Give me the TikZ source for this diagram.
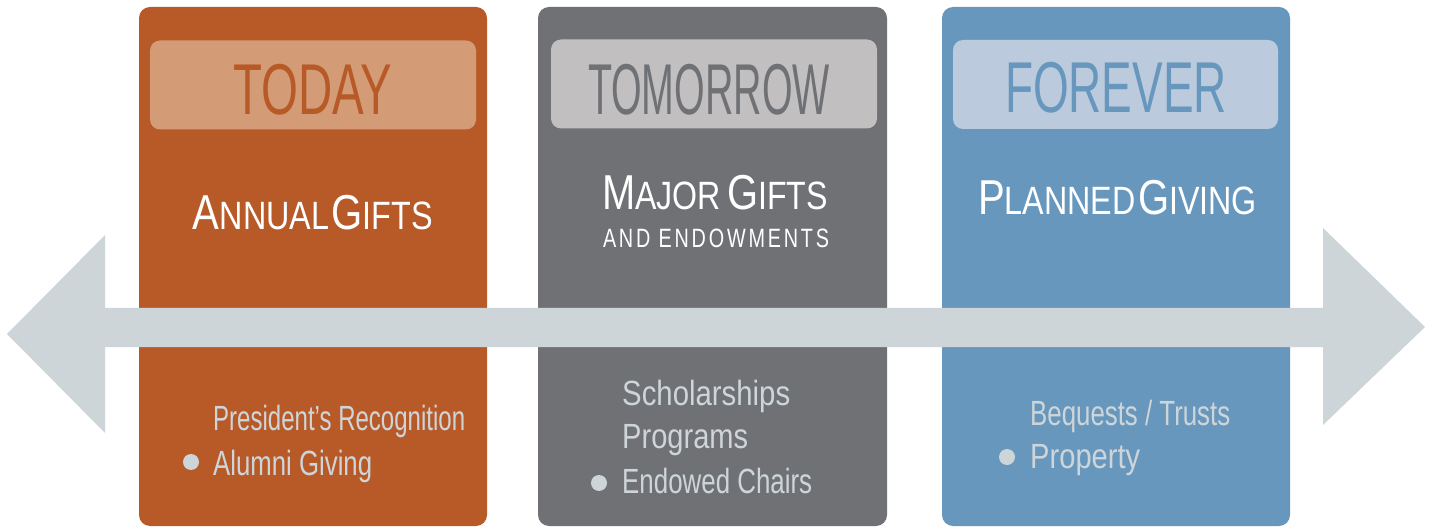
\documentclass[tikz,border=0pt]{standalone}
\usepackage{fontspec}
\usepackage{graphicx}
\setmainfont{Liberation Sans}
\newfontfamily\trackfont[LetterSpace=14]{Liberation Sans}
\definecolor{orangebox}{HTML}{B85A28}
\definecolor{orangehead}{HTML}{D49C76}
\definecolor{graybox}{HTML}{707175}
\definecolor{grayhead}{HTML}{C1BFBF}
\definecolor{bluebox}{HTML}{6897BD}
\definecolor{bluehead}{HTML}{BCCADD}
\definecolor{arrowgray}{HTML}{CDD5D9}
\newcommand\fitw[2]{\resizebox{#1}{\height}{#2}}
\newcommand\bigc[1]{{\fontsize{49}{49}\selectfont #1}}
\newcommand\smc[1]{{\fontsize{39.5}{39.5}\selectfont #1}}
\begin{document}
\begin{tikzpicture}[x=1pt,y=-1pt,
  column/.style={inner sep=0pt, outer sep=0pt, rounded corners=11pt, minimum width=348pt, minimum height=519pt},
  header/.style={inner sep=0pt, outer sep=0pt, rounded corners=10pt, minimum width=326pt, minimum height=89pt},
  headtext/.style={inner sep=0pt, anchor=base, font=\fontsize{72}{72}\selectfont},
  titletext/.style={inner sep=0pt, anchor=base, text=white},
  listtext/.style={inner sep=0pt, anchor=base west, text=arrowgray, font=\fontsize{35}{35}\selectfont},
  bulletdot/.style={circle, fill=arrowgray, inner sep=0pt, minimum size=16pt}
]
\useasboundingbox (0,0) rectangle (1435,529);
\fill[white] (0,0) rectangle (1435,529);

% columns
\node[column, fill=orangebox] (c1) at (313,266.5) {};
\node[column, fill=graybox, minimum width=349pt] (c2) at (712.5,266.5) {};
\node[column, fill=bluebox] (c3) at (1116,266.5) {};

% headers
\node[header, fill=orangehead] (h1) at (313,85) {};
\node[header, fill=grayhead] (h2) at (714,84) {};
\node[header, fill=bluehead, minimum width=325pt] (h3) at (1115.5,84.5) {};

\node[headtext, text=orangebox] (t1) at (312.5,115) {\fitw{159pt}{TODAY}};
\node[headtext, text=graybox] (t2) at (709,115) {\fitw{242pt}{TOMORROW}};
\node[headtext, text=bluebox] (t3) at (1116,113) {\fitw{222pt}{FOREVER}};

% titles
\node[titletext] (s1) at (313,230) {\fitw{240pt}{\bigc{A}\smc{NNUAL}\hspace{3pt}\bigc{G}\smc{IFTS}}};
\node[titletext] (s2) at (715,210) {\fitw{226pt}{\bigc{M}\smc{AJOR}\hspace{8pt}\bigc{G}\smc{IFTS}}};
\node[titletext] (s2b) at (716,248) {\fitw{226pt}{\trackfont\fontsize{26.5}{26.5}\selectfont AND ENDOWMENTS}};
\node[titletext] (s3) at (1117.5,215) {\fitw{279pt}{\bigc{P}\smc{LANNED}\hspace{3pt}\bigc{G}\smc{IVING}}};

% timeline arrow
\fill[arrowgray] (7,334) -- (105,235) -- (105,308) -- (1323,308) -- (1323,228)
  -- (1425,327) -- (1323,425) -- (1323,347) -- (105,347) -- (105,433) -- cycle;

% lists
\node[listtext] (l11) at (213,430) {\fitw{252pt}{President’s Recognition}};
\node[listtext] (l12) at (213,475) {\fitw{159pt}{Alumni Giving}};
\node[bulletdot] (b1) at (191,462) {};

\node[listtext] (l21) at (622,405) {\fitw{168pt}{Scholarships}};
\node[listtext] (l22) at (622,448) {\fitw{126pt}{Programs}};
\node[listtext] (l23) at (622,493) {\fitw{190pt}{Endowed Chairs}};
\node[bulletdot] (b2) at (599,483) {};

\node[listtext] (l31) at (1030,425) {\fitw{200pt}{Bequests / Trusts}};
\node[listtext] (l32) at (1030,468) {\fitw{110pt}{Property}};
\node[bulletdot] (b3) at (1007,457) {};
\end{tikzpicture}
\end{document}
